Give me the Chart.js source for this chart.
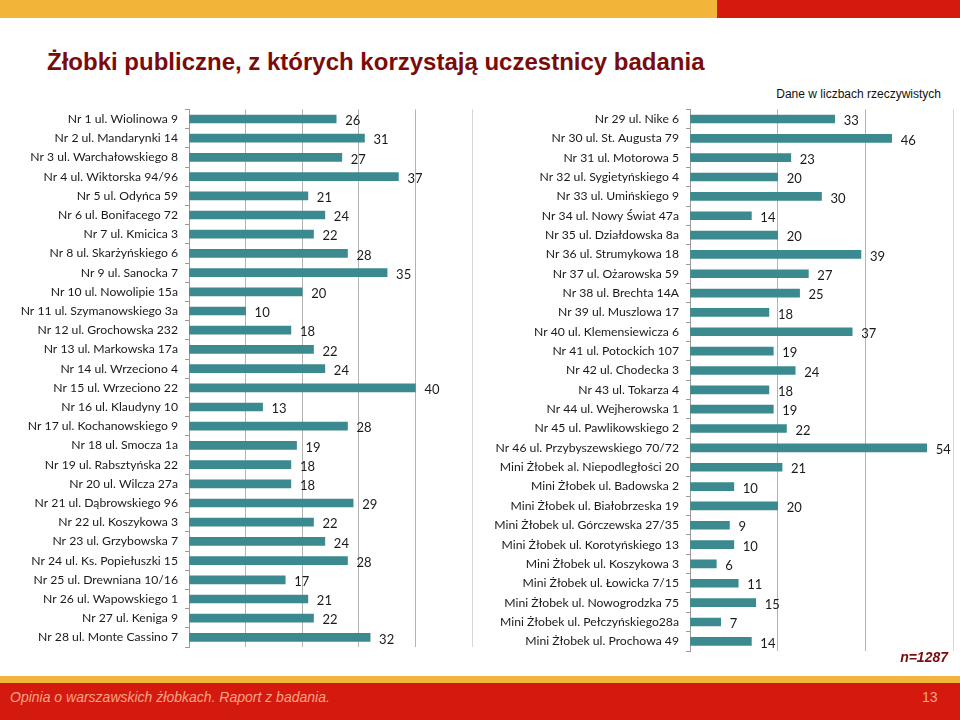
<!DOCTYPE html>
<html>
<head>
<meta charset="utf-8">
<script src="https://cdn.jsdelivr.net/npm/chart.js@4.4.0/dist/chart.umd.min.js"></script>
<style>
  html, body { margin: 0; padding: 0; background: #fff; }
  #page { position: relative; width: 960px; height: 720px; overflow: hidden; background: #fff; }
  #topY { position: absolute; left: 0; top: 0; width: 960px; height: 18px; background: #F2B53A; }
  #topR { position: absolute; left: 717px; top: 0; width: 243px; height: 18px; background: #D4190F; }
  #title { position: absolute; left: 47px; top: 48px; font-family: "Liberation Sans", Arial, sans-serif; font-weight: bold; font-size: 24px; color: #7A0B0B; white-space: nowrap; }
  #note { position: absolute; right: 19px; top: 87px; font-family: "Liberation Sans", Arial, sans-serif; font-size: 12px; color: #111; white-space: nowrap; }
  #nval { position: absolute; right: 12px; top: 649px; font-family: "Liberation Sans", Arial, sans-serif; font-weight: bold; font-style: italic; font-size: 14px; color: #7A0B0B; }
  #footY { position: absolute; left: 0; top: 676px; width: 960px; height: 8px; background: #F2B53A; }
  #footR { position: absolute; left: 0; top: 683px; width: 960px; height: 37px; background: #D4190F; }
  #footT { position: absolute; left: 10px; top: 689px; font-family: "Liberation Sans", Arial, sans-serif; font-style: italic; font-size: 14px; color: #F6A585; white-space: nowrap; }
  #footN { position: absolute; left: 922px; top: 689px; font-family: "Liberation Sans", Arial, sans-serif; font-size: 14px; color: #F6A585; }
  #wrapL { position: absolute; left: 0; top: 100px; width: 480px; height: 560px; }
  #wrapR { position: absolute; left: 480px; top: 100px; width: 480px; height: 560px; }
</style>
</head>
<body>
<div id="page">
  <div id="topY"></div><div id="topR"></div>
  <div id="title">Żłobki publiczne, z których korzystają uczestnicy badania</div>
  <div id="note">Dane w liczbach rzeczywistych</div>
  <div id="wrapL"><canvas id="cL" width="480" height="560"></canvas></div>
  <div id="wrapR"><canvas id="cR" width="480" height="560"></canvas></div>
  <div id="nval">n=1287</div>
  <div id="footY"></div><div id="footR"></div>
  <div id="footT">Opinia o warszawskich żłobkach. Raport z badania.</div>
  <div id="footN">13</div>
</div>
<script>
const leftLabels = [
  "Nr 1 ul. Wiolinowa 9", "Nr 2 ul. Mandarynki 14", "Nr 3 ul. Warchałowskiego 8",
  "Nr 4 ul. Wiktorska 94/96", "Nr 5 ul. Odyńca 59", "Nr 6 ul. Bonifacego 72",
  "Nr 7 ul. Kmicica 3", "Nr 8 ul. Skarżyńskiego 6", "Nr 9 ul. Sanocka 7",
  "Nr 10 ul. Nowolipie 15a", "Nr 11 ul. Szymanowskiego 3a", "Nr 12 ul. Grochowska 232",
  "Nr 13 ul. Markowska 17a", "Nr 14 ul. Wrzeciono 4", "Nr 15 ul. Wrzeciono 22",
  "Nr 16 ul. Klaudyny 10", "Nr 17 ul. Kochanowskiego 9", "Nr 18 ul. Smocza 1a",
  "Nr 19 ul. Rabsztyńska 22", "Nr 20 ul. Wilcza 27a", "Nr 21 ul. Dąbrowskiego 96",
  "Nr 22 ul. Koszykowa 3", "Nr 23 ul. Grzybowska 7", "Nr 24 ul. Ks. Popiełuszki 15",
  "Nr 25 ul. Drewniana 10/16", "Nr 26 ul. Wapowskiego 1", "Nr 27 ul. Keniga 9",
  "Nr 28 ul. Monte Cassino 7"
];
const leftValues = [26, 31, 27, 37, 21, 24, 22, 28, 35, 20, 10, 18, 22, 24, 40, 13, 28, 19, 18, 18, 29, 22, 24, 28, 17, 21, 22, 32];

const rightLabels = [
  "Nr 29 ul. Nike 6", "Nr 30 ul. St. Augusta 79", "Nr 31 ul. Motorowa 5",
  "Nr 32 ul. Sygietyńskiego 4", "Nr 33 ul. Umińskiego 9", "Nr 34 ul. Nowy Świat 47a",
  "Nr 35 ul. Działdowska 8a", "Nr 36 ul. Strumykowa 18", "Nr 37 ul. Ożarowska 59",
  "Nr 38 ul. Brechta 14A", "Nr 39 ul. Muszlowa 17", "Nr 40 ul. Klemensiewicza 6",
  "Nr 41 ul. Potockich 107", "Nr 42 ul. Chodecka 3", "Nr 43 ul. Tokarza 4",
  "Nr 44 ul. Wejherowska 1", "Nr 45 ul. Pawlikowskiego 2", "Nr 46 ul. Przybyszewskiego 70/72",
  "Mini Żłobek al. Niepodległości 20", "Mini Żłobek ul. Badowska 2", "Mini Żłobek ul. Białobrzeska 19",
  "Mini Żłobek ul. Górczewska 27/35", "Mini Żłobek ul. Korotyńskiego 13", "Mini Żłobek ul. Koszykowa 3",
  "Mini Żłobek ul. Łowicka 7/15", "Mini Żłobek ul. Nowogrodzka 75", "Mini Żłobek ul. Pełczyńskiego28a",
  "Mini Żłobek ul. Prochowa 49"
];
const rightValues = [33, 46, 23, 20, 30, 14, 20, 39, 27, 25, 18, 37, 19, 24, 18, 19, 22, 54, 21, 10, 20, 9, 10, 6, 11, 15, 7, 14];

const leftMax = 50, leftStep = 10;
const rightMax = 60, rightStep = 20;

const BAR = '#3A8A8F';
const FONT = 'Lato, "Open Sans", sans-serif';

const valueLabels = {
  id: 'valueLabels',
  afterDatasetsDraw(chart) {
    const ctx = chart.ctx;
    const meta = chart.getDatasetMeta(0);
    ctx.save();
    ctx.font = '13px ' + FONT;
    ctx.fillStyle = '#1a1a1a';
    ctx.textAlign = 'left';
    ctx.textBaseline = 'middle';
    meta.data.forEach((el, i) => {
      const v = chart.data.datasets[0].data[i];
      ctx.fillText(String(v), el.x + 9, el.y + 2);
    });
    ctx.restore();
  }
};

function makeChart(id, labels, values, max, step, axisWidth, padRight, padTop, padBottom) {
  return new Chart(document.getElementById(id), {
    type: 'bar',
    data: {
      labels: labels,
      datasets: [{
        data: values,
        backgroundColor: BAR,
        borderWidth: 0,
        barThickness: 8
      }]
    },
    options: {
      indexAxis: 'y',
      responsive: false,
      animation: false,
      layout: { padding: { left: 0, right: padRight, top: padTop, bottom: padBottom } },
      plugins: { legend: { display: false }, tooltip: { enabled: false } },
      scales: {
        x: {
          min: 0, max: max,
          afterFit(scale) { scale.paddingLeft = 0; scale.paddingRight = 0; },
          ticks: { display: false, stepSize: step },
          grid: {
            drawTicks: false,
            color: (c) => (c.tick && c.tick.value === max) ? '#d6d6d6' : '#b3b3b3',
            lineWidth: 1
          },
          border: { display: false }
        },
        y: {
          afterFit(scale) { scale.width = axisWidth; scale.paddingTop = 0; scale.paddingBottom = 0; },
          ticks: { color: '#1a1a1a', font: { family: FONT, size: 12.2 }, padding: 7, autoSkip: false },
          grid: { offset: true, drawOnChartArea: false, drawTicks: true, tickLength: 4, color: '#9a9a9a' },
          border: { display: true, color: '#9a9a9a' }
        }
      }
    },
    plugins: [valueLabels]
  });
}

makeChart('cL', leftLabels, leftValues, leftMax, leftStep, 189, 8, 9.4, 13);
makeChart('cR', rightLabels, rightValues, rightMax, rightStep, 210, 7, 9.3, 9);
</script>
</body>
</html>
